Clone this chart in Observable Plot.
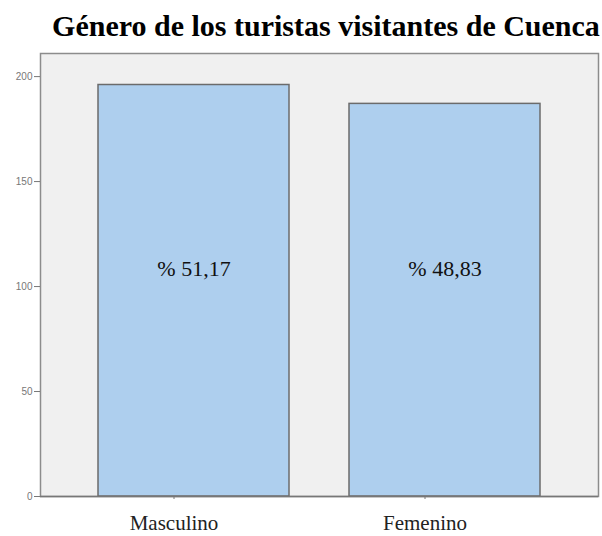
<!DOCTYPE html>
<html>
<head>
<meta charset="utf-8">
<script src="https://cdn.jsdelivr.net/npm/d3@7"></script>
<script src="https://cdn.jsdelivr.net/npm/@observablehq/plot@0.6"></script>
<style>
  html, body { margin: 0; padding: 0; background: #fff; }
  #title {
    height: 46px; box-sizing: border-box; padding-left: 50px; padding-top: 9px;
    text-align: center; font-family: "Liberation Serif", serif; font-weight: bold;
    font-size: 30px; line-height: 34px; color: #000; width: 602px; white-space: nowrap;
  }
</style>
</head>
<body>
<div id="title">Género de los turistas visitantes de Cuenca</div>
<div id="chart"></div>
<script>
const categories = ["Masculino", "Femenino"];
const counts = [196, 187];
const percentLabels = ["% 51,17", "% 48,83"];
const yTicks = [0, 50, 100, 150, 200];

const data = categories.map((c, i) => ({category: c, count: counts[i], label: percentLabels[i]}));

const chart = Plot.plot({
  width: 602,
  height: 490,
  marginTop: 7,
  marginBottom: 40,
  marginLeft: 40,
  marginRight: 4,
  style: {background: "#fff", overflow: "visible"},
  x: {domain: categories, paddingInner: 0.24, paddingOuter: 0.23, label: null},
  y: {domain: [0, 211], label: null},
  marks: [
    Plot.frame({fill: "#f0f0f0", stroke: "#8c8c8c", strokeWidth: 1.5}),
    Plot.barY(data, {x: "category", y: "count", fill: "#aecfee", stroke: "#6b6b6b", strokeWidth: 1.5}),
    Plot.text(data, {x: "category", text: "label", frameAnchor: "middle", dy: -6,
      fontFamily: "Liberation Serif", fontSize: 22, fill: "#111"}),
    Plot.axisY({ticks: yTicks, tickSize: 6, tickPadding: 2, fontSize: 10, fontFamily: "Liberation Sans",
      color: "#777", stroke: "#777"}),
    Plot.axisX({tickSize: 3, tickPadding: 16, fontSize: 21, fontFamily: "Liberation Serif",
      color: "#222", stroke: "#777", dx: -20}),
    Plot.ruleY([0], {stroke: "#777", strokeWidth: 1.5})
  ]
});
document.getElementById("chart").appendChild(chart);
</script>
</body>
</html>
